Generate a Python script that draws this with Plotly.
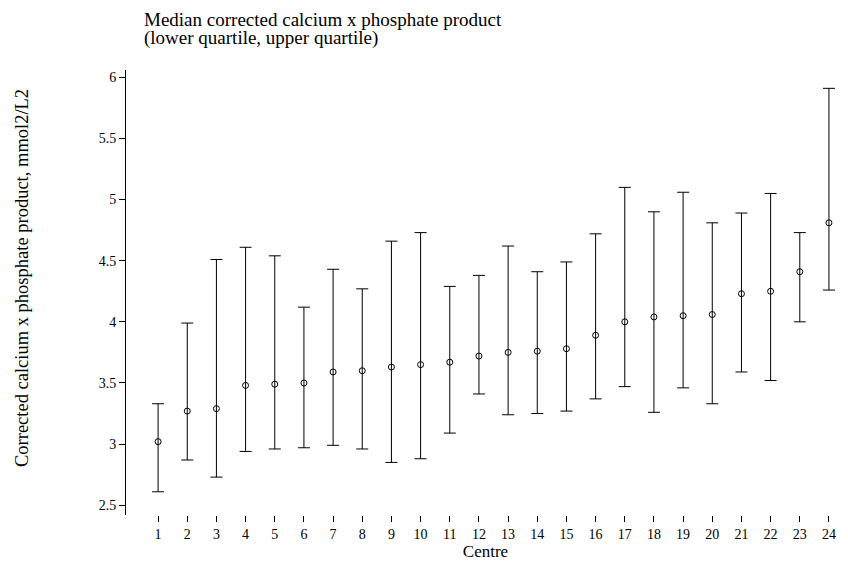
import plotly.graph_objects as go

centres = list(range(1, 25))
median = [3.02,3.27,3.29,3.48,3.49,3.50,3.59,3.60,3.63,3.65,3.67,3.72,3.75,3.76,3.78,3.89,4.00,4.04,4.05,4.06,4.23,4.25,4.41,4.81]
lower = [2.61,2.87,2.73,2.94,2.96,2.97,2.99,2.96,2.85,2.88,3.09,3.41,3.24,3.25,3.27,3.37,3.47,3.26,3.46,3.33,3.59,3.52,4.00,4.26]
upper = [3.33,3.99,4.51,4.61,4.54,4.12,4.43,4.27,4.66,4.73,4.29,4.38,4.62,4.41,4.49,4.72,5.10,4.90,5.06,4.81,4.89,5.05,4.73,5.91]
title_lines = ["Median corrected calcium x phosphate product", "(lower quartile, upper quartile)"]

fig = go.Figure(go.Scatter(
    x=centres, y=median, mode="markers",
    marker=dict(symbol="circle-open", size=6, color="black", line=dict(width=1)),
    error_y=dict(type="data", symmetric=False,
                 array=[u - m for u, m in zip(upper, median)],
                 arrayminus=[m - l for m, l in zip(median, lower)],
                 color="black", thickness=1, width=6),
    cliponaxis=False,
))
font = dict(family="Liberation Serif, Times New Roman, serif", size=14, color="black")
W, H = 840, 558
l, r, t, b = 118, 3, 62, 51
pw, ph = W - l - r, H - t - b
def px(x): return (x - l) / pw
def py(y): return 1 - (y - t) / ph
ann = [dict(text=s, x=px(134), y=py(yy), xref="paper", yref="paper", showarrow=False,
            xanchor="left", yanchor="middle", font=dict(size=19))
       for s, yy in zip(title_lines, [12, 30])]
ann.append(dict(text="Corrected calcium x phosphate product, mmol2/L2", textangle=-90,
                x=px(14), y=py(270), xref="paper", yref="paper", showarrow=False,
                xanchor="center", yanchor="middle", font=dict(size=18.5)))
fig.update_layout(
    width=W, height=H, plot_bgcolor="white", paper_bgcolor="white",
    margin=dict(l=l, r=r, t=t, b=b, autoexpand=False), font=font, showlegend=False,
    annotations=ann,
)
fig.update_xaxes(range=[-0.1, 24.55], tickvals=centres, showgrid=False, zeroline=False, automargin=False,
                 ticks="outside", ticklen=6, tickcolor="black", showline=False,
                 title=dict(text="Centre", standoff=0))
fig.update_yaxes(range=[2.42, 6.06], tickvals=[2.5,3,3.5,4,4.5,5,5.5,6],
                 ticktext=["2.5","3","3.5","4","4.5","5","5.5","6"], automargin=False,
                 showgrid=False, zeroline=False, ticks="outside", ticklen=6, tickcolor="black",
                 showline=True, linecolor="black")
fig.write_html("out.html")
